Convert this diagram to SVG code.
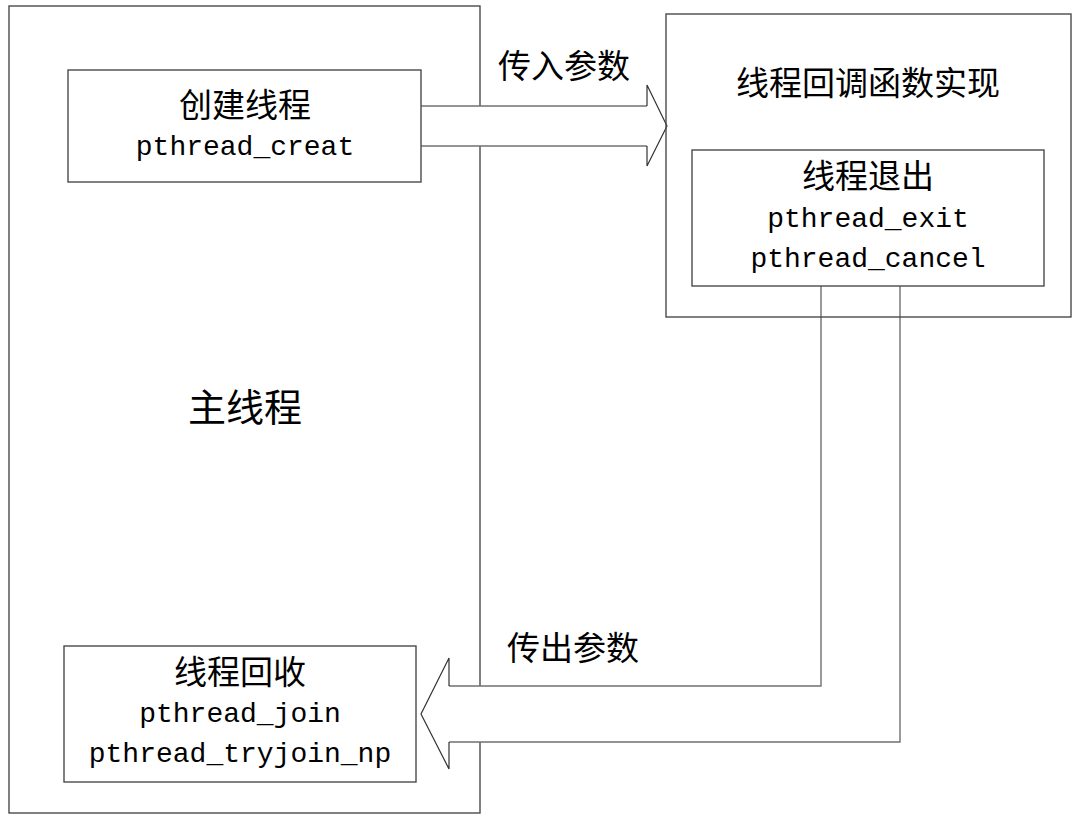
<svg xmlns="http://www.w3.org/2000/svg" width="1080" height="820" viewBox="0 0 1080 820">
<style>
.box{fill:#fff;stroke:#4a4a4a;stroke-width:1.4}
.frame{fill:none;stroke:#4a4a4a;stroke-width:1.4}
.arrowfill{fill:#fff;stroke:none}
.arrowline{fill:none;stroke:#707070;stroke-width:1.4;stroke-linejoin:miter}
.arrowhead{fill:none;stroke:#333;stroke-width:1.2}
.cjk{font-family:"Liberation Serif","Noto Sans CJK SC",serif;font-size:33px;fill:#000;text-anchor:middle}
.mono{font-family:"Liberation Mono","Noto Sans CJK SC",monospace;font-size:28px;fill:#000;text-anchor:middle}
</style>
<rect x="0" y="0" width="1080" height="820" fill="#fff"/>
<g id="main-thread">
<rect class="box" x="9" y="6" width="471" height="807"/>
<text class="cjk" x="245" y="421" style="font-size:38px">主线程</text>
</g>
<g id="connectors">
<g id="pass-in">
<path class="arrowfill" d="M421,106 H647 V85 L667,126 L647,166 V146 H421 Z"/>
<path class="arrowline" d="M421,106 H647"/>
<path class="arrowline" d="M421,146 H647"/>
<path class="arrowhead" d="M647,106 V85 L667,126 L647,166 V146"/>
<text class="cjk" x="564" y="78">传入参数</text>
</g>
<g id="pass-out">
<path class="arrowfill" d="M821,286 V686 H449 V658 L421,714 L449,769 V742 H900 V286 Z"/>
<path class="arrowline" d="M821,286 V686 H449"/>
<path class="arrowline" d="M449,742 H900 V286"/>
<path class="arrowhead" d="M449,686 V658 L421,714 L449,769 V742"/>
<text class="cjk" x="573" y="660">传出参数</text>
</g>
</g>
<g id="create-thread">
<rect class="box" x="68" y="70" width="353" height="112"/>
<text class="cjk" x="245" y="117">创建线程</text>
<text class="mono" x="245" y="155">pthread_creat</text>
</g>
<g id="join-thread">
<rect class="box" x="64" y="646" width="352" height="136"/>
<text class="cjk" x="240" y="684">线程回收</text>
<text class="mono" x="240" y="722">pthread_join</text>
<text class="mono" x="240" y="762">pthread_tryjoin_np</text>
</g>
<g id="callback">
<rect class="frame" x="666" y="14" width="405" height="303"/>
<text class="cjk" x="868" y="95">线程回调函数实现</text>
</g>
<g id="thread-exit">
<rect class="box" x="692" y="150" width="352" height="136"/>
<text class="cjk" x="868" y="188">线程退出</text>
<text class="mono" x="868" y="227">pthread_exit</text>
<text class="mono" x="868" y="267">pthread_cancel</text>
</g>
</svg>
